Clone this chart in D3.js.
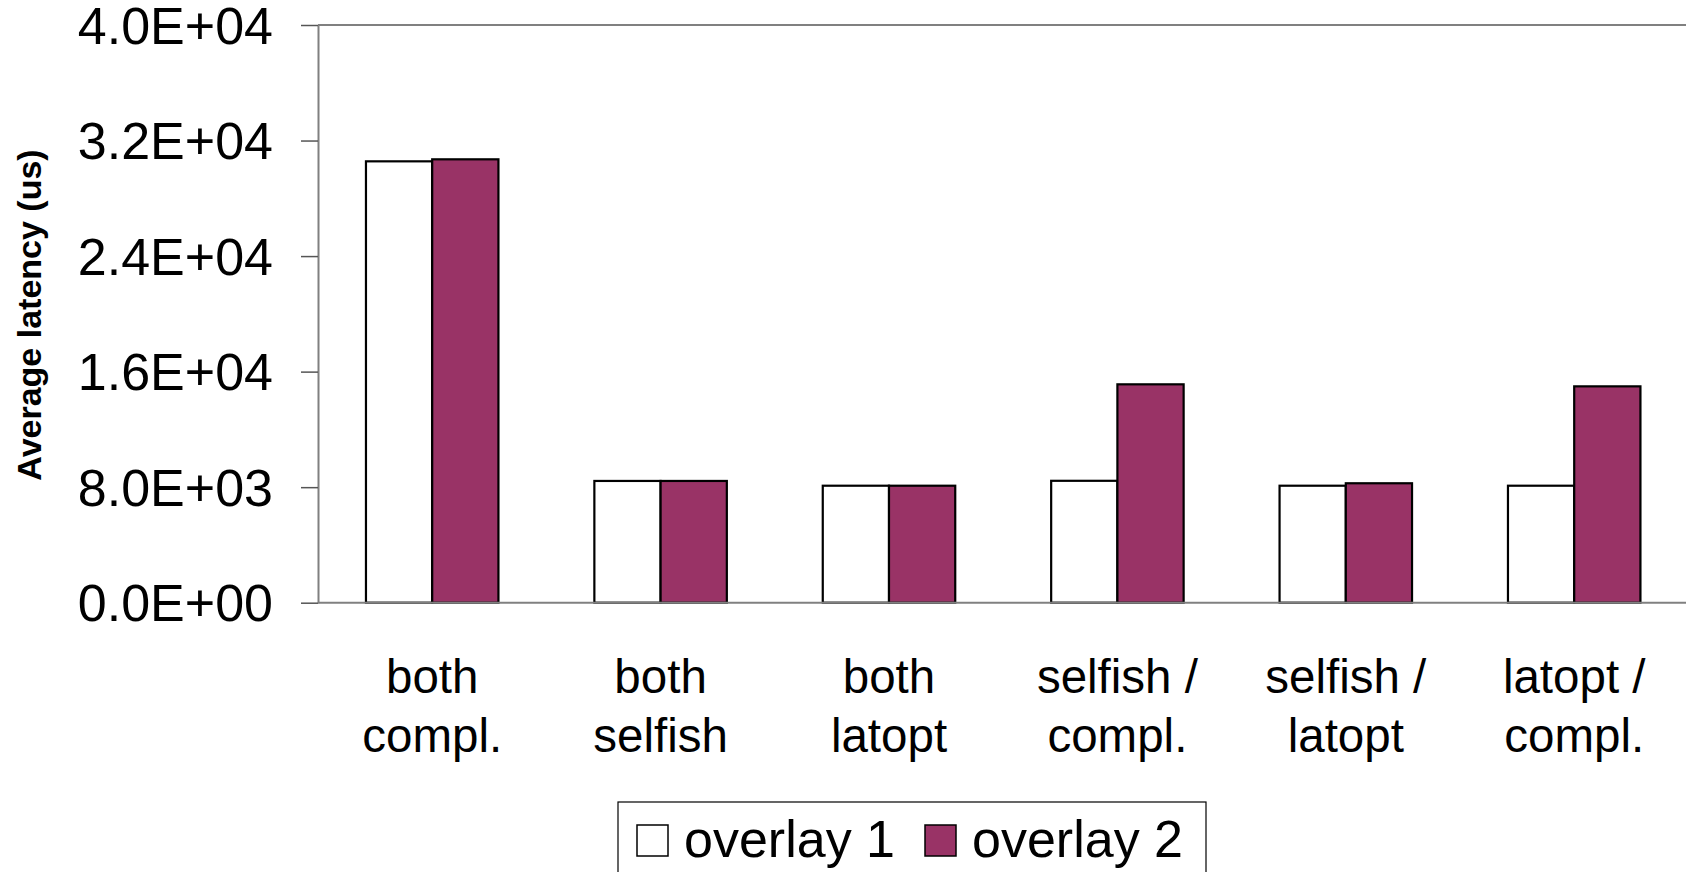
<!DOCTYPE html>
<html>
<head>
<meta charset="utf-8">
<script src="https://cdn.jsdelivr.net/npm/d3@7"></script>
<style>
  html, body { margin: 0; padding: 0; background: #fff; }
  svg { display: block; font-family: "Liberation Sans", Arial, Helvetica, sans-serif; }
</style>
</head>
<body>
<svg id="chart" width="1686" height="872"></svg>
<script>
// Scenario categories (two-line labels)
const categories = [
  ["both", "compl."],
  ["both", "selfish"],
  ["both", "latopt"],
  ["selfish /", "compl."],
  ["selfish /", "latopt"],
  ["latopt /", "compl."]
];
const seriesNames = ["overlay 1", "overlay 2"];
// Average latency in microseconds
const overlay1 = [30560, 8430, 8100, 8440, 8100, 8100];
const overlay2 = [30700, 8430, 8100, 15120, 8270, 14980];
const yTicks = [0, 8000, 16000, 24000, 32000, 40000];
const seriesColors = ["#ffffff", "#993366"];

const svg = d3.select("#chart");
const plot = { left: 318, right: 1688.4, top: 25, bottom: 602.7 };

const keys = categories.map(c => c.join(" "));
const x0 = d3.scaleBand().domain(keys).range([plot.left, plot.right])
  .paddingInner(0.42).paddingOuter(0.21);
const x1 = d3.scaleBand().domain(seriesNames).range([0, x0.bandwidth()]);
const y = d3.scaleLinear().domain([0, 40000]).range([plot.bottom, plot.top]);

// Scientific notation like 4.0E+04
function sci(v) {
  if (v === 0) return "0.0E+00";
  const e = Math.floor(Math.log10(v));
  const m = v / Math.pow(10, e);
  return m.toFixed(1) + "E" + (e < 0 ? "-" : "+") + String(Math.abs(e)).padStart(2, "0");
}

// Plot frame: top border line
svg.append("line")
  .attr("x1", plot.left).attr("x2", 1686)
  .attr("y1", y(40000)).attr("y2", y(40000))
  .attr("stroke", "#808080").attr("stroke-width", 2);

// Y axis
const yAxis = svg.append("g")
  .attr("transform", `translate(${plot.left},0)`)
  .call(d3.axisLeft(y).tickValues(yTicks).tickFormat(sci).tickSize(17).tickSizeOuter(0).tickPadding(28));
yAxis.select(".domain").attr("stroke", "#808080").attr("stroke-width", 2);
yAxis.selectAll(".tick line").attr("stroke", "#555").attr("stroke-width", 1.5);
yAxis.selectAll(".tick text")
  .attr("font-size", 52).attr("fill", "#000")
  .attr("dy", "0.35em")
  .attr("font-family", "'Liberation Sans', Arial, Helvetica, sans-serif");

// Bars
const data = keys.map((k, i) => ({ key: k, values: [overlay1[i], overlay2[i]] }));
const groups = svg.append("g").selectAll("g").data(data).join("g")
  .attr("transform", d => `translate(${x0(d.key)},0)`);
groups.selectAll("rect")
  .data(d => d.values.map((v, j) => ({ name: seriesNames[j], value: v, color: seriesColors[j] })))
  .join("rect")
  .attr("x", d => x1(d.name))
  .attr("width", x1.bandwidth())
  .attr("y", d => y(d.value))
  .attr("height", d => y(0) - y(d.value))
  .attr("fill", d => d.color)
  .attr("stroke", "#000")
  .attr("stroke-width", 2.2);

// X axis baseline
svg.append("line")
  .attr("x1", plot.left).attr("x2", 1686)
  .attr("y1", y(0)).attr("y2", y(0))
  .attr("stroke", "#808080").attr("stroke-width", 2);

// Category labels
const catLabels = svg.append("g").selectAll("text").data(categories).join("text")
  .attr("x", (d, i) => x0(keys[i]) + x0.bandwidth() / 2)
  .attr("y", 693)
  .attr("text-anchor", "middle")
  .attr("font-size", 47.5)
  .attr("fill", "#000");
catLabels.each(function(d) {
  const t = d3.select(this);
  d.forEach((line, k) => {
    t.append("tspan")
      .attr("x", t.attr("x"))
      .attr("y", 693 + k * 59)
      .text(line);
  });
});

// Y axis title
svg.append("text")
  .attr("transform", "translate(41,315) rotate(-90)")
  .attr("text-anchor", "middle")
  .attr("font-size", 34)
  .attr("font-weight", "bold")
  .attr("fill", "#000")
  .text("Average latency (us)");

// Legend
const legend = svg.append("g");
legend.append("rect")
  .attr("x", 618).attr("y", 802)
  .attr("width", 588).attr("height", 100)
  .attr("fill", "#fff").attr("stroke", "#000").attr("stroke-width", 1.2);
const legendX = [637, 925];
seriesNames.forEach((name, i) => {
  legend.append("rect")
    .attr("x", legendX[i]).attr("y", 825)
    .attr("width", 31).attr("height", 31)
    .attr("fill", seriesColors[i]).attr("stroke", "#000").attr("stroke-width", 1.5);
  legend.append("text")
    .attr("x", legendX[i] + 47).attr("y", 857)
    .attr("font-size", 52)
    .attr("fill", "#000")
    .text(name);
});
</script>
</body>
</html>
